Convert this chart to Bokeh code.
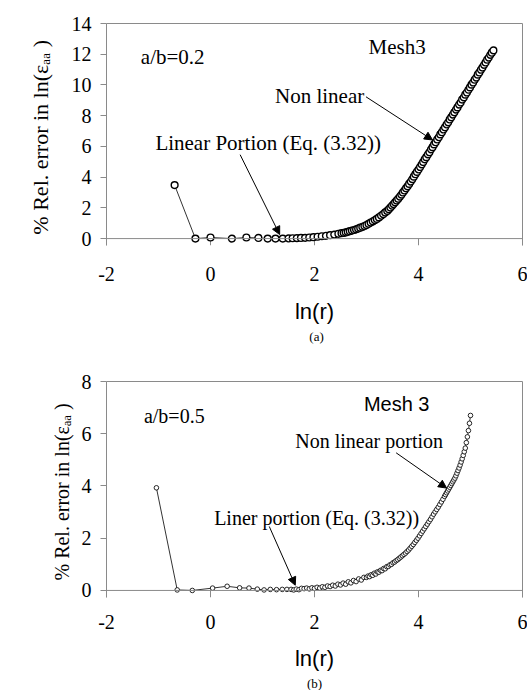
from bokeh.plotting import figure
from bokeh.models import Label, Arrow, NormalHead, FixedTicker, Range1d, Span, LinearAxis, Title
from bokeh.layouts import column
from bokeh.embed import file_html
from bokeh.resources import INLINE

# ---------------- data ----------------
x_ticks = [-2, 0, 2, 4, 6]
a_y_ticks = [0, 2, 4, 6, 8, 10, 12, 14]
b_y_ticks = [0, 2, 4, 6, 8]

# panel (a): a/b = 0.2
a_x = [-0.69, -0.29, 0.00, 0.41, 0.69, 0.92, 1.10, 1.25, 1.39,
       1.50, 1.58, 1.66, 1.74, 1.82, 1.90, 1.98, 2.06, 2.14, 2.22, 2.30, 2.38, 2.46,
       2.52, 2.56, 2.60, 2.64, 2.68, 2.72, 2.76, 2.80, 2.84, 2.88, 2.92, 2.96,
       3.00, 3.04, 3.08, 3.12, 3.16, 3.20, 3.24, 3.28, 3.32, 3.36, 3.40,
       3.43, 3.46, 3.49, 3.52, 3.55, 3.58, 3.61, 3.64, 3.67, 3.70,
       3.73, 3.76, 3.79, 3.82, 3.85, 3.88, 3.91, 3.94, 3.97, 4.00,
       4.03, 4.06, 4.09, 4.12, 4.15, 4.18, 4.21, 4.24, 4.27, 4.30, 4.33, 4.36,
       4.39, 4.42, 4.45, 4.48, 4.51, 4.54, 4.57, 4.60, 4.63, 4.66, 4.69, 4.72,
       4.75, 4.78, 4.81, 4.84, 4.87, 4.90, 4.93, 4.96, 4.99, 5.02, 5.05, 5.08,
       5.11, 5.14, 5.17, 5.20, 5.23, 5.26, 5.29, 5.32, 5.35, 5.38, 5.41, 5.44]
a_y = [3.48, 0.00, 0.07, 0.00, 0.07, 0.04, 0.00, 0.00, 0.00,
       0.01, 0.02, 0.03, 0.04, 0.05, 0.07, 0.09, 0.12, 0.15, 0.18, 0.22, 0.26, 0.31,
       0.35, 0.37, 0.40, 0.44, 0.48, 0.52, 0.56, 0.60, 0.65, 0.71, 0.76, 0.82,
       0.88, 0.96, 1.04, 1.12, 1.20, 1.28, 1.38, 1.49, 1.59, 1.70, 1.80,
       1.91, 2.02, 2.14, 2.25, 2.36, 2.48, 2.59, 2.73, 2.86, 3.00,
       3.13, 3.27, 3.40, 3.56, 3.71, 3.87, 4.03, 4.19, 4.34, 4.50,
       4.66, 4.83, 4.98, 5.16, 5.30, 5.48, 5.62, 5.81, 5.95, 6.13, 6.27, 6.45,
       6.60, 6.78, 6.92, 7.10, 7.24, 7.43, 7.57, 7.75, 7.89, 8.07, 8.22, 8.40,
       8.54, 8.72, 8.86, 9.05, 9.19, 9.37, 9.51, 9.69, 9.84, 10.02, 10.16, 10.34,
       10.48, 10.67, 10.81, 10.99, 11.13, 11.31, 11.46, 11.64, 11.78, 11.96, 12.10, 12.25]

# panel (b): a/b = 0.5
b_x = [-1.04, -0.64, -0.35, 0.04, 0.32, 0.56, 0.74, 0.90, 1.03, 1.15, 1.27, 1.38, 1.47,
       1.55, 1.60, 1.65, 1.70, 1.75, 1.80, 1.85, 1.90, 1.95, 2.00, 2.05, 2.10, 2.15, 2.20, 2.25,
       2.30, 2.35, 2.40, 2.45, 2.50, 2.55, 2.60, 2.65, 2.70, 2.75, 2.80, 2.85, 2.90, 2.95,
       3.00, 3.03, 3.06, 3.09, 3.12, 3.15, 3.18, 3.21, 3.24, 3.27, 3.30, 3.33, 3.36,
       3.39, 3.42, 3.45, 3.48, 3.51, 3.54, 3.57, 3.60, 3.63, 3.66, 3.69, 3.72, 3.75,
       3.78, 3.81, 3.84, 3.87, 3.90, 3.93, 3.96, 3.99, 4.02, 4.05, 4.08, 4.11, 4.14,
       4.17, 4.20, 4.23, 4.26, 4.29, 4.32, 4.35, 4.38, 4.41, 4.44, 4.47, 4.50,
       4.52, 4.54, 4.56, 4.58, 4.60, 4.62, 4.64, 4.66, 4.68, 4.70, 4.72, 4.74, 4.76,
       4.78, 4.80, 4.82, 4.84, 4.86, 4.88, 4.90, 4.92, 4.94, 4.96, 4.98, 5.00]
b_y = [3.93, 0.02, 0.00, 0.09, 0.16, 0.10, 0.09, 0.05, 0.02, 0.04, 0.03, 0.04, 0.04,
       0.04, 0.02, 0.05, 0.03, 0.08, 0.07, 0.09, 0.06, 0.10, 0.08, 0.12, 0.09, 0.14, 0.12, 0.17,
       0.15, 0.20, 0.17, 0.24, 0.21, 0.28, 0.24, 0.33, 0.29, 0.38, 0.34, 0.44, 0.40, 0.50,
       0.50, 0.55, 0.53, 0.60, 0.58, 0.66, 0.63, 0.71, 0.70, 0.77, 0.76, 0.84, 0.83,
       0.91, 0.92, 0.98, 1.00, 1.06, 1.09, 1.14, 1.18, 1.23, 1.28, 1.33, 1.38, 1.43,
       1.49, 1.55, 1.62, 1.69, 1.76, 1.84, 1.92, 2.00, 2.09, 2.18, 2.27, 2.36, 2.45,
       2.54, 2.63, 2.72, 2.82, 2.92, 3.01, 3.10, 3.19, 3.29, 3.39, 3.49, 3.60,
       3.67, 3.74, 3.81, 3.88, 3.95, 4.02, 4.09, 4.16, 4.23, 4.30, 4.39, 4.49, 4.59,
       4.69, 4.80, 4.92, 5.04, 5.17, 5.31, 5.45, 5.66, 5.88, 6.12, 6.40, 6.70]

y_label = "% Rel. error in  ln(\u03b5\u2090\u2090 )"
x_label = "ln(r)"

SERIF = "Liberation Serif"
SANS = "Liberation Sans"
GRAY = "#8a8a8a"


def border_axis(p, side):
    ax = LinearAxis(ticker=FixedTicker(ticks=[]), axis_line_color=GRAY,
                    major_tick_out=0, major_tick_in=0, minor_tick_out=0, minor_tick_in=0,
                    major_tick_line_color=None, minor_tick_line_color=None,
                    major_label_standoff=0, major_label_text_font_size="0px",
                    axis_label_standoff=0)
    p.add_layout(ax, side)


def style(p, y_ticks, y_bottom, ylab_fs, ylab_standoff, xlab_standoff, xaxlab_standoff):
    p.xgrid.visible = False
    p.ygrid.visible = False
    p.outline_line_color = None
    p.background_fill_color = "white"
    p.border_fill_color = "white"
    xa = p.xaxis[0]
    xa.ticker = FixedTicker(ticks=x_ticks)
    xa.major_label_overrides = {t: str(t) for t in x_ticks}
    xa.axis_line_color = None
    xa.major_tick_line_color = None
    xa.minor_tick_line_color = None
    xa.major_tick_out = 0
    xa.major_tick_in = 0
    xa.minor_tick_out = 0
    xa.minor_tick_in = 0
    xa.major_label_standoff = xlab_standoff
    xa.axis_label = x_label
    xa.axis_label_text_font = SANS
    xa.axis_label_text_font_size = "22px"
    xa.axis_label_text_font_style = "normal"
    xa.axis_label_text_color = "black"
    xa.axis_label_standoff = xaxlab_standoff
    ya = p.yaxis[0]
    ya.ticker = FixedTicker(ticks=y_ticks)
    ya.axis_line_color = GRAY
    ya.major_tick_line_color = GRAY
    ya.minor_tick_line_color = None
    ya.major_tick_in = 0
    ya.major_tick_out = 6
    ya.major_label_standoff = 9
    ya.axis_label = y_label
    ya.axis_label_text_font = SERIF
    ya.axis_label_text_font_size = ylab_fs
    ya.axis_label_text_font_style = "normal"
    ya.axis_label_text_color = "black"
    ya.axis_label_standoff = ylab_standoff
    for ax in (xa, ya):
        ax.major_label_text_font = SERIF
        ax.major_label_text_font_size = "20px"
        ax.major_label_text_color = "black"
    border_axis(p, "above")
    border_axis(p, "right")
    # x axis line at y = 0 with its outward ticks
    p.add_layout(Span(location=0, dimension="width", line_color=GRAY, line_width=1))
    p.segment(x0=x_ticks, y0=[0] * len(x_ticks), x1=x_ticks, y1=[y_bottom] * len(x_ticks),
              line_color=GRAY, line_width=1)


def txt(p, x, y, s, font=SERIF, size="21px", align="left"):
    p.add_layout(Label(x=x, y=y, text=s, text_font=font, text_font_size=size,
                       text_align=align, text_baseline="middle", text_color="black",
                       text_font_style="normal"))


def arrow(p, x0, y0, x1, y1):
    p.add_layout(Arrow(end=NormalHead(size=8, fill_color="black", line_color="black", line_width=1),
                       x_start=x0, y_start=y0, x_end=x1, y_end=y1,
                       line_color="black", line_width=1))


# ---------------- panel (a) ----------------
a_bottom = -0.45
p1 = figure(width=527, height=326, x_range=Range1d(-2, 6), y_range=Range1d(a_bottom, 14),
            output_backend="svg", toolbar_location=None,
            min_border_left=103, min_border_right=1, min_border_top=23, min_border_bottom=81)
style(p1, a_y_ticks, a_bottom, "22px", 16, 21, 15)
p1.line(a_x, a_y, line_color="#333333", line_width=1)
p1.scatter(a_x, a_y, marker="circle", size=6.8, fill_color="white", line_color="black", line_width=1.4)
txt(p1, -1.34, 11.8, "a/b=0.2")
txt(p1, 3.04, 12.47, "Mesh3")
txt(p1, 1.24, 9.28, "Non linear")
txt(p1, -1.06, 6.22, "Linear Portion (Eq. (3.32))")
arrow(p1, 2.99, 9.23, 4.27, 6.42)
arrow(p1, 0.57, 5.46, 1.33, 0.26)

# caption strip "(a)", sharing panel (a)'s horizontal frame
cap = figure(width=527, height=20, x_range=Range1d(-2, 6), y_range=Range1d(0, 1),
             x_axis_type=None, y_axis_type=None, output_backend="svg", toolbar_location=None,
             min_border_left=103, min_border_right=1, min_border_top=0, min_border_bottom=0)
cap.outline_line_color = None
cap.xgrid.visible = False
cap.ygrid.visible = False
cap.background_fill_color = "white"
cap.border_fill_color = "white"
txt(cap, 2.04, 0.5, "(a)", size="13px", align="center")

# ---------------- panel (b) ----------------
b_bottom = -0.27
p2 = figure(width=527, height=344, x_range=Range1d(-2, 6), y_range=Range1d(b_bottom, 8),
            output_backend="svg", toolbar_location=None,
            min_border_left=106, min_border_right=5, min_border_top=35, min_border_bottom=91)
style(p2, b_y_ticks, b_bottom, "20px", 6, 17, 14)
p2.line(b_x, b_y, line_color="#333333", line_width=1)
p2.scatter(b_x, b_y, marker="circle", size=4.6, fill_color="white", line_color="#111111", line_width=0.9)
txt(p2, -1.28, 6.68, "a/b=0.5", size="20px")
txt(p2, 2.95, 7.13, "Mesh 3", font=SANS, size="20px")
txt(p2, 1.63, 5.72, "Non linear portion", size="20px")
txt(p2, 0.07, 2.77, "Liner portion (Eq. (3.32))", size="20px")
arrow(p2, 3.57, 5.27, 4.54, 3.92)
arrow(p2, 1.13, 2.45, 1.63, 0.2)
p2.add_layout(Title(text="(b)", align="center", text_font=SERIF, text_font_size="13px",
                    text_font_style="normal", text_color="black", standoff=0), "below")

layout = column(p1, cap, p2)
open("out.html", "w").write(file_html(layout, INLINE))
